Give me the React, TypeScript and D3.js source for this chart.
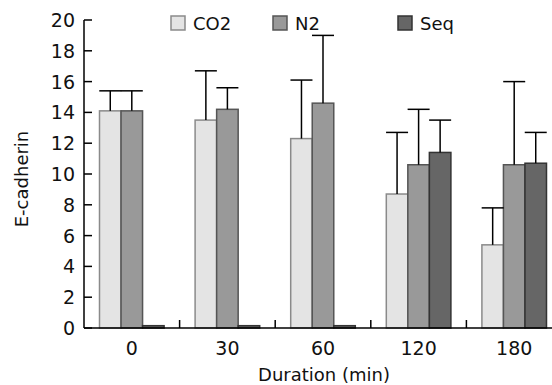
import { useEffect, useRef } from "react";
import * as d3 from "d3";

const durations = ["0", "30", "60", "120", "180"];
const seriesNames = ["CO2", "N2", "Seq"];
const co2Mean = [14.1, 13.5, 12.3, 8.7, 5.4];
const co2Sd = [1.3, 3.2, 3.8, 4.0, 2.4];
const n2Mean = [14.1, 14.2, 14.6, 10.6, 10.6];
const n2Sd = [1.3, 1.4, 4.4, 3.6, 5.4];
const seqMean = [0.15, 0.15, 0.15, 11.4, 10.7];
const seqSd = [0, 0, 0, 2.1, 2.0];
const yTicks = [0, 2, 4, 6, 8, 10, 12, 14, 16, 18, 20];

const fills = ["#e4e4e4", "#999999", "#666666"];
const strokes = ["#8a8a8a", "#555555", "#333333"];

const W = 552;
const H = 385;
const FONT = "'DejaVu Sans', sans-serif";

export default function App() {
  const svgRef = useRef<SVGSVGElement>(null);

  useEffect(() => {
    if (!svgRef.current) return;
    const svg = d3.select(svgRef.current);
    svg.selectAll("*").remove();

    const left = 84;
    const x = d3.scaleBand<string>().domain(durations).range([left, 562]).paddingInner(0);
    const xs = d3.scaleBand<string>().domain(seriesNames).range([0, x.bandwidth()]).paddingInner(0).paddingOuter(0.72);
    const y = d3.scaleLinear().domain([0, 20]).range([328, 20]);

    const means = [co2Mean, n2Mean, seqMean];
    const sds = [co2Sd, n2Sd, seqSd];

    // bars
    const bars = svg.append("g");
    seriesNames.forEach((s, si) => {
      durations.forEach((d, di) => {
        const bx = (x(d) ?? 0) + (xs(s) ?? 0);
        bars
          .append("rect")
          .attr("x", bx)
          .attr("y", y(means[si][di]))
          .attr("width", xs.bandwidth())
          .attr("height", y(0) - y(means[si][di]))
          .attr("fill", fills[si])
          .attr("stroke", strokes[si])
          .attr("stroke-width", 1.5);
      });
    });

    // error bars
    const errs = svg.append("g").attr("stroke", "#000").attr("stroke-width", 1.5);
    seriesNames.forEach((s, si) => {
      durations.forEach((d, di) => {
        if (!sds[si][di]) return;
        const cx = (x(d) ?? 0) + (xs(s) ?? 0) + xs.bandwidth() / 2;
        const top = y(means[si][di] + sds[si][di]);
        errs.append("line").attr("x1", cx).attr("x2", cx).attr("y1", y(means[si][di])).attr("y2", top);
        errs.append("line").attr("x1", cx - 11).attr("x2", cx + 11).attr("y1", top).attr("y2", top);
      });
    });

    // axes
    const axis = svg.append("g").attr("stroke", "#000").attr("stroke-width", 1.5);
    axis.append("line").attr("x1", left).attr("x2", left).attr("y1", y(20)).attr("y2", y(0));
    axis.append("line").attr("x1", left).attr("x2", 562).attr("y1", y(0)).attr("y2", y(0));
    yTicks.forEach((t) => {
      axis.append("line").attr("x1", left).attr("x2", left + 8).attr("y1", y(t)).attr("y2", y(t));
    });
    durations.slice(1).forEach((d) => {
      const bx = x(d) ?? 0;
      axis.append("line").attr("x1", bx).attr("x2", bx).attr("y1", y(0)).attr("y2", y(0) - 8);
    });

    const labels = svg.append("g").style("font-family", FONT).attr("fill", "#111");
    yTicks.forEach((t) => {
      labels
        .append("text")
        .attr("x", 75)
        .attr("y", y(t) + 7)
        .attr("text-anchor", "end")
        .style("font-size", "19px")
        .text(t);
    });
    durations.forEach((d) => {
      labels
        .append("text")
        .attr("x", (x(d) ?? 0) + x.bandwidth() / 2)
        .attr("y", 355)
        .attr("text-anchor", "middle")
        .style("font-size", "19px")
        .text(d);
    });

    labels
      .append("text")
      .attr("x", 324)
      .attr("y", 381)
      .attr("text-anchor", "middle")
      .style("font-size", "18px")
      .text("Duration (min)");

    labels
      .append("text")
      .attr("transform", "translate(28,179) rotate(-90)")
      .attr("text-anchor", "middle")
      .style("font-size", "18px")
      .text("E-cadherin");

    // legend
    const legendX = [171, 273, 398];
    const legend = svg.append("g").style("font-family", FONT);
    seriesNames.forEach((s, si) => {
      legend
        .append("rect")
        .attr("x", legendX[si])
        .attr("y", 16)
        .attr("width", 14)
        .attr("height", 14)
        .attr("fill", fills[si])
        .attr("stroke", strokes[si])
        .attr("stroke-width", 1.5);
      legend
        .append("text")
        .attr("x", legendX[si] + 22)
        .attr("y", 30)
        .attr("fill", "#111")
        .style("font-size", "18px")
        .text(s);
    });
  }, []);

  return (
    <div style={{ width: W, height: H, overflow: "hidden" }}>
      <style>{`body{margin:0;background:#fff}`}</style>
      <svg ref={svgRef} width={W} height={H} viewBox={`0 0 ${W} ${H}`} style={{ display: "block" }} />
    </div>
  );
}
